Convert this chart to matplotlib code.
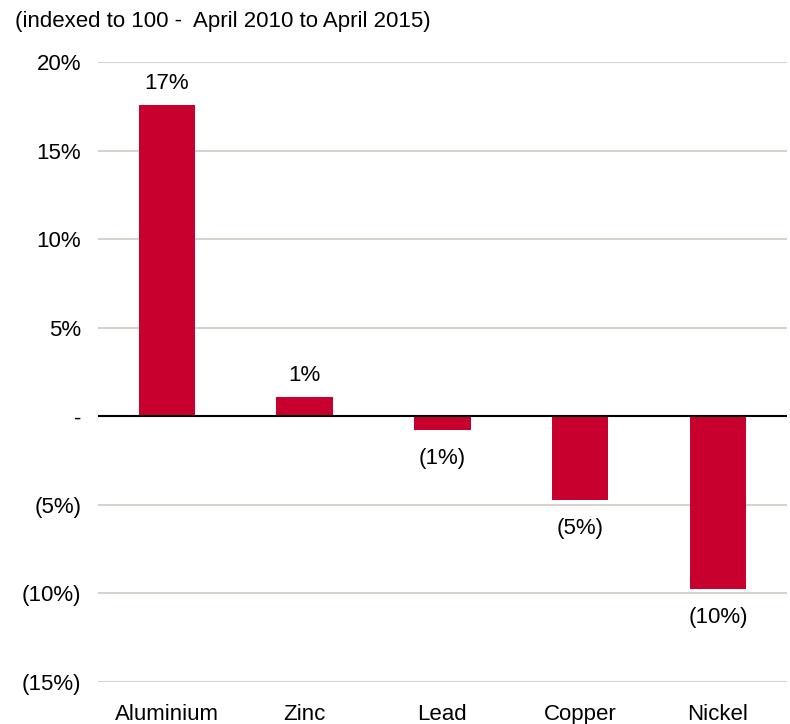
import matplotlib.pyplot as plt
import numpy as np

metals = ['Aluminium', 'Zinc', 'Lead', 'Copper', 'Nickel']
change = [17.56, 1.07, -0.79, -4.74, -9.77]
change_labels = ['17%', '1%', '(1%)', '(5%)', '(10%)']
yticks = [-15, -10, -5, 0, 5, 10, 15, 20]
ytick_labels = ['(15%)', '(10%)', '(5%)', '-', '5%', '10%', '15%', '20%']

plt.rcParams['font.family'] = ['Liberation Sans', 'DejaVu Sans']
red = '#c8002d'
grid = '#d6d2cd'
fs = 16

fig = plt.figure(figsize=(7.9, 7.24), dpi=100)
ax = fig.add_axes([0.124, 0.058, 0.872, 0.856])

x = np.arange(len(metals))
bars = ax.bar(x, change, width=0.41, color=red, zorder=3)

for b, v, lab in zip(bars, change, change_labels):
    cx = b.get_x() + b.get_width() / 2
    if v >= 0:
        ax.annotate(lab, (cx, v), xytext=(0, 8), textcoords='offset points',
                    ha='center', va='bottom', fontsize=fs)
    else:
        ax.annotate(lab, (cx, v), xytext=(0, -13), textcoords='offset points',
                    ha='center', va='top', fontsize=fs)

ax.set_xlim(-0.5, 4.5)
ax.set_ylim(-15, 20)
ax.set_yticks(yticks)
ax.set_yticklabels(ytick_labels)
ax.set_xticks(x)
ax.set_xticklabels(metals)
ax.tick_params(axis='y', length=0, pad=12, labelsize=fs)
ax.tick_params(axis='x', length=0, pad=16, labelsize=fs)

for t in yticks:
    if t != 0:
        ax.axhline(t, color=grid, lw=1.5, zorder=1)
ax.axhline(0, color='black', lw=1.5, zorder=4)

for s in ax.spines.values():
    s.set_visible(False)

fig.text(0.019, 0.97, '(indexed to 100 -  April 2010 to April 2015)',
         fontsize=fs, ha='left', va='center')

plt.savefig('out.png', dpi=100)
